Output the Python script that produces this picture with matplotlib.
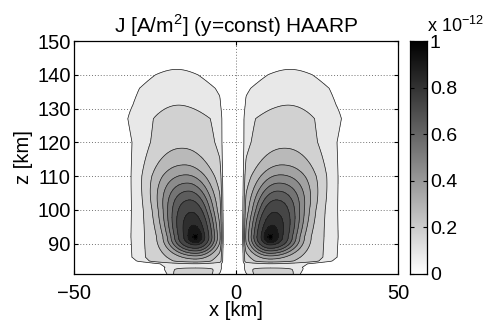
import numpy as np
import matplotlib
matplotlib.use("Agg")
import matplotlib.pyplot as plt

plt.rcParams["font.family"] = ["Liberation Sans", "DejaVu Sans"]
plt.rcParams["mathtext.fontset"] = "custom"
plt.rcParams["mathtext.rm"] = "Liberation Sans"

FS = 14.5

# Contour levels of J in units of 1e-12 A/m^2
contour_levels = [0.1, 0.2, 0.3, 0.4, 0.5, 0.6, 0.7, 0.8, 0.9, 0.95, 0.992, 1.05]
cbar_ticks = [0, 0.2, 0.4, 0.6, 0.8, 1.0]
cbar_ticklabels = ["0", "0.2", "0.4", "0.6", "0.8", "1"]
x_ticks = [-50, 0, 50]
z_ticks = [90, 100, 110, 120, 130, 140, 150]

# Two current lobes: peak position, outward direction, outward stretch
lobe_peak_x = [-12.5, 10.6]
lobe_side = [-1, 1]
lobe_stretch = [1.0, 1.05]
peak_z = 92.0
gap_dist = 9.2        # peak-to-edge distance of the current-free gap near x=0
gap_ramp = 1.8

# Concentrated core around the peak, plus a small sharp maximum
core_amp = 0.68
core_power = 2.8
core_tilt = 0.16       # outward lean of the core axis above the peak
core_wz_up = 18.1
core_wz_down = 5.4
core_z = [81.0, 92.0, 100.0, 110.0, 120.0, 150.0]
core_wx = [8.4, 8.4, 9.5, 12.0, 13.0, 13.0]
core_inner_ratio = 0.8
spot_amp = 0.04
spot_w = 1.8

# Broad plume: amplitude, centre offset (outward from peak), half-width, order
plume_z = [81.0, 82.4, 83.0, 84.0, 84.8, 86.0, 92.0, 100.0, 110.0, 120.0,
           127.0, 131.0, 136.0, 140.0, 141.6, 143.0, 150.0]
plume_amp = [0.27, 0.23, 0.17, 0.16, 0.28, 0.28, 0.28, 0.27, 0.26, 0.26,
             0.245, 0.20, 0.165, 0.125, 0.10, 0.07, 0.02]
plume_off = [0.8, 0.5, 0.0, 0.5, 2.0, 2.5, 2.5, 3.0, 3.5, 3.8,
             4.2, 5.2, 5.6, 5.8, 5.8, 5.8, 5.8]
plume_w = [8.0, 9.5, 11.0, 12.5, 16.0, 17.0, 17.3, 16.8, 16.3, 16.0,
           17.5, 17.0, 16.5, 13.8, 12.0, 12.0, 12.0]
plume_order = [4.0, 4.0, 4.0, 4.0, 4.0, 4.0, 4.0, 4.0, 4.0, 2.6,
               2.3, 2.0, 2.0, 2.0, 2.0, 2.0, 2.0]

x = np.linspace(-50, 50, 801)
z = np.linspace(81, 150, 553)
X, Z = np.meshgrid(x, z)


def smoothstep(t):
    t = np.clip(t, 0.0, 1.0)
    return t * t * (3 - 2 * t)


A = np.interp(Z, plume_z, plume_amp)
PO = np.interp(Z, plume_z, plume_off)
PW = np.interp(Z, plume_z, plume_w)
PP = np.interp(Z, plume_z, plume_order)
CW = np.interp(Z, core_z, core_wx)
dz = Z - peak_z
rz = np.where(dz >= 0, dz / core_wz_up, dz / core_wz_down)

J = np.zeros_like(X)
for xp, s, k in zip(lobe_peak_x, lobe_side, lobe_stretch):
    u = s * (X - xp)
    uo = np.where(u > 0, u / k, u)
    dx = uo - core_tilt * np.clip(dz, 0, None)
    wx = np.where(dx >= 0, CW, CW * core_inner_ratio)
    r = np.sqrt((dx / wx) ** 2 + rz ** 2)
    core = core_amp * np.exp(-r ** core_power)
    spot = spot_amp * np.exp(-(u ** 2 + dz ** 2) / spot_w ** 2)
    d = uo - PO
    plume = A * np.exp(-(np.abs(d) / PW) ** PP)
    g = smoothstep((u + gap_dist) / gap_ramp)
    J = np.maximum(J, (core + spot + plume) * g)

fig = plt.figure(figsize=(4.88, 3.2), dpi=100)
ax = fig.add_axes([74 / 488, 1 - 274 / 320, 324 / 488, 233 / 320])
cax = fig.add_axes([410 / 488, 1 - 274 / 320, 17 / 488, 233 / 320])

n_bands = len(contour_levels) - 1
fill_colors = [str(round(1 - (i + 1) / n_bands, 3)) for i in range(n_bands)]
ax.contourf(X, Z, J, levels=contour_levels, colors=fill_colors, zorder=1)
ax.contour(X, Z, J, levels=contour_levels[:-1], colors="0.1",
           linewidths=0.5, zorder=2)

ax.set_xlim(-50, 50)
ax.set_ylim(81, 150)
ax.set_xticks(x_ticks)
ax.set_yticks(z_ticks)
ax.grid(True, color="0.45", linestyle=(0, (1, 2)), linewidth=0.7)
ax.set_axisbelow(True)
ax.tick_params(direction="in", length=3, width=0.8, labelsize=FS,
               top=True, right=True)
ax.tick_params(axis="x", pad=7.5)
ax.tick_params(axis="y", pad=2.5)
for sp in ax.spines.values():
    sp.set_linewidth(0.9)

ax.set_title(r"J [A/m$^2$] (y=const) HAARP", fontsize=15, pad=6)
ax.set_xlabel("x [km]", fontsize=FS)
ax.xaxis.set_label_coords(0.5, -0.118)
ax.set_ylabel("z [km]", fontsize=FS, va="center")
ax.yaxis.set_label_coords(-0.155, 0.5)

grad = np.linspace(0, 1, 256).reshape(-1, 1)
cax.imshow(grad, cmap="gray_r", aspect="auto", origin="lower",
           extent=[0, 1, 0, 1], vmin=0, vmax=1)
cax.set_xlim(0, 1)
cax.set_ylim(0, 1)
cax.set_xticks([])
cax.set_yticks(cbar_ticks)
cax.set_yticklabels(cbar_ticklabels)
cax.yaxis.tick_right()
cax.tick_params(axis="y", direction="in", length=3, width=0.8, labelsize=14,
                left=True, right=True, pad=2)
for sp in cax.spines.values():
    sp.set_linewidth(0.9)

fig.text(427 / 488, 1 - 32 / 320, r"x 10$^{-12}$", fontsize=13,
         ha="left", va="baseline")

fig.savefig("out.png", dpi=100)
